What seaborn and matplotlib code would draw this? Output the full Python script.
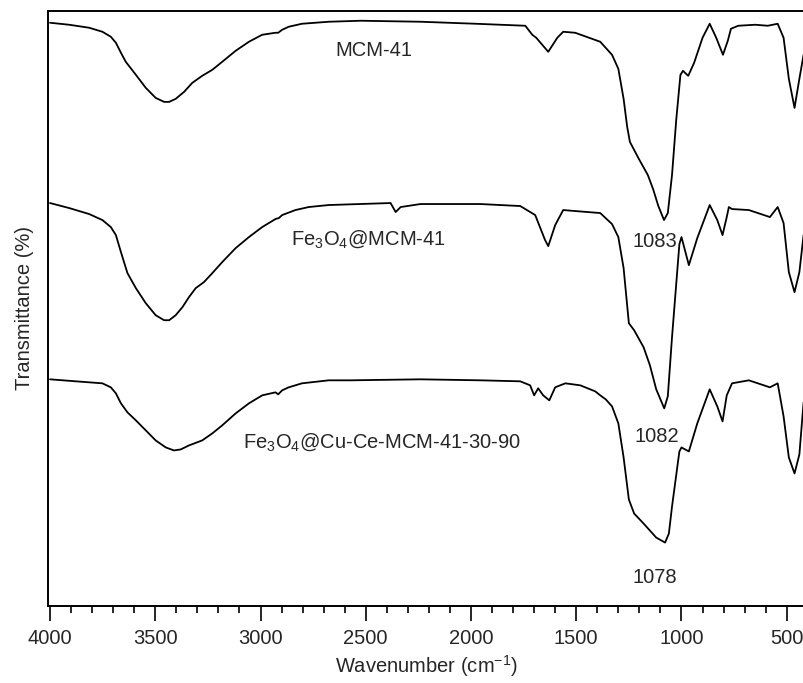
import numpy as np
import pandas as pd
import matplotlib
matplotlib.use("Agg")
import matplotlib.pyplot as plt
from matplotlib.ticker import MultipleLocator
import seaborn as sns

# ---- data (wavenumber in cm-1, transmittance in arbitrary stacked units) ----
wn_mcm = [4000, 3909, 3814, 3751, 3711, 3687, 3663, 3640, 3592, 3545, 3498, 3458,
          3434, 3403, 3363, 3324, 3277, 3229, 3182, 3118, 3055, 2992, 2929, 2916,
          2897, 2866, 2803, 2739, 2676, 2524, 2240, 1979, 1742, 1709, 1690, 1633,
          1590, 1562, 1505, 1386, 1330, 1300, 1275, 1258, 1245, 1205, 1160, 1135,
          1110, 1083, 1065, 1045, 1025, 1005, 993, 968, 940, 900, 866, 835, 803,
          780, 765, 730, 650, 590, 543, 515, 490, 463, 440, 420]
t_mcm = [582, 580, 577, 573, 568, 562, 552, 543, 530, 517, 507, 503,
         503, 506, 513, 522, 529, 535, 543, 554, 563, 570, 572, 572,
         575, 578, 581, 582, 583, 584, 583, 581, 579, 570, 567, 553,
         567, 573, 572, 563, 550, 536, 506, 478, 463, 447, 430, 416,
         399, 385, 392, 430, 485, 530, 534, 529, 542, 567, 581, 567, 550,
         564, 576, 579, 580, 579, 581, 567, 526, 497, 526, 550]

wn_fe = [4000, 3909, 3814, 3751, 3711, 3687, 3663, 3632, 3592, 3545, 3498, 3458,
         3434, 3403, 3371, 3340, 3308, 3269, 3229, 3182, 3118, 3055, 2992, 2929,
         2913, 2897, 2834, 2771, 2676, 2382, 2358, 2334, 2240, 1955, 1766, 1695,
         1648, 1633, 1600, 1562, 1505, 1386, 1330, 1300, 1275, 1250, 1225, 1180,
         1150, 1120, 1082, 1065, 1045, 1010, 1000, 965, 925, 866, 830, 805, 785,
         775, 760, 680, 580, 543, 515, 490, 463, 440, 420]
t_fe = [402, 397, 391, 385, 378, 370, 353, 332, 317, 302, 290, 285,
        285, 290, 298, 308, 317, 323, 332, 343, 357, 368, 378, 386,
        387, 390, 395, 398, 400, 402, 393, 398, 401, 401, 399, 390,
        365, 359, 380, 395, 394, 392, 381, 368, 337, 282, 275, 258,
        240, 216, 197, 209, 268, 361, 368, 340, 367, 400, 385, 370, 388,
        398, 396, 395, 388, 398, 382, 333, 313, 333, 370]

wn_cu = [4000, 3877, 3751, 3711, 3687, 3663, 3632, 3592, 3545, 3498, 3450, 3411,
         3379, 3340, 3277, 3229, 3182, 3118, 3055, 2992, 2929, 2916, 2897, 2866,
         2803, 2676, 2572, 2240, 1955, 1766, 1719, 1700, 1681, 1657, 1628, 1600,
         1552, 1481, 1410, 1386, 1360, 1330, 1300, 1275, 1250, 1225, 1180, 1150,
         1120, 1078, 1060, 1045, 1010, 1000, 965, 925, 866, 830, 805, 785, 760,
         680, 580, 543, 515, 490, 463, 440, 420]
t_cu = [226, 224, 222, 218, 212, 202, 193, 185, 175, 165, 158, 155,
        156, 160, 165, 172, 180, 192, 202, 210, 213, 211, 215, 218,
        222, 225, 225, 226, 225, 224, 220, 210, 217, 210, 205, 218,
        222, 220, 214, 210, 206, 199, 182, 148, 106, 92, 82, 75,
        68, 63, 72, 99, 154, 158, 154, 182, 216, 199, 184, 210, 222,
        225, 218, 222, 189, 148, 132, 151, 203]

samples = ["MCM-41", "Fe3O4@MCM-41", "Fe3O4@Cu-Ce-MCM-41-30-90"]
sample_labels = ["MCM-41", "Fe$_3$O$_4$@MCM-41", "Fe$_3$O$_4$@Cu-Ce-MCM-41-30-90"]
peak_labels = ["1083", "1082", "1078"]

df = pd.concat([
    pd.DataFrame({"wavenumber": wn_mcm, "T": t_mcm, "sample": samples[0]}),
    pd.DataFrame({"wavenumber": wn_fe, "T": t_fe, "sample": samples[1]}),
    pd.DataFrame({"wavenumber": wn_cu, "T": t_cu, "sample": samples[2]}),
], ignore_index=True)

# ---- style ----
sns.set_style("ticks")
plt.rcParams["font.family"] = ["Liberation Sans", "DejaVu Sans"]
plt.rcParams["mathtext.default"] = "regular"
FS = 14.5

fig = plt.figure(figsize=(8.04, 6.83), dpi=100)
ax = fig.add_axes([0.0601, 0.1132, 0.9399, 0.8711])

sns.lineplot(data=df, x="wavenumber", y="T", hue="sample", units="sample",
             estimator=None, palette=["black"] * 3, linewidth=1.3,
             legend=False, ax=ax)

ax.set_xlim(4008, 418)
ax.set_ylim(0, 594)
ax.set_yticks([])
ax.xaxis.set_major_locator(MultipleLocator(500))
ax.xaxis.set_minor_locator(MultipleLocator(100))
ax.tick_params(axis="x", which="major", length=10.5, width=1.2, labelsize=FS,
               pad=6, color="black")
ax.tick_params(axis="x", which="minor", length=5, width=1.2, color="black")
for s in ["left", "top", "bottom"]:
    ax.spines[s].set_linewidth(1.4)
    ax.spines[s].set_color("black")
ax.spines["right"].set_visible(False)

ax.set_xlabel("Wavenumber (cm$^{-1}$)", fontsize=FS, labelpad=4)
ax.set_ylabel("Transmittance (%)", fontsize=FS, labelpad=10)

# sample labels
label_pos = [(2643, 549), (2857, 360), (3084, 158)]
for (x, y), lab in zip(label_pos, sample_labels):
    ax.text(x, y, lab, fontsize=FS, ha="left", va="baseline")

peak_pos = [(1235, 358), (1221, 163), (1231, 23)]
for (x, y), lab in zip(peak_pos, peak_labels):
    ax.text(x, y, lab, fontsize=FS, ha="left", va="baseline")

fig.savefig("out.png", dpi=100)
